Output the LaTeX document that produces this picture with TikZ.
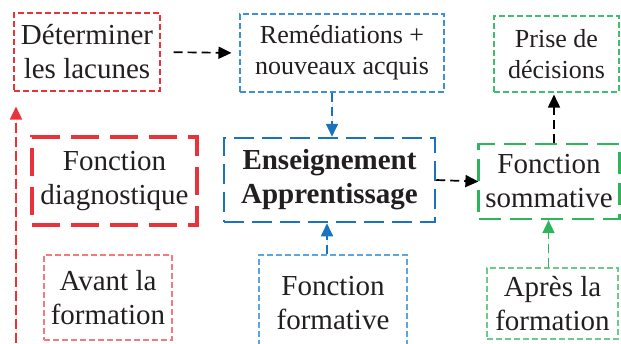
\documentclass[tikz,border=0pt]{standalone}
\usepackage{fontspec}
\setmainfont{Liberation Serif}
\usetikzlibrary{arrows.meta}
\definecolor{cred}{HTML}{E8333A}
\definecolor{credl}{HTML}{F27B7E}
\definecolor{cblue}{HTML}{1A73BF}
\definecolor{cbluem}{HTML}{3D8FD6}
\definecolor{cbluel}{HTML}{5CA5DE}
\definecolor{cgreen}{HTML}{2DB55C}
\definecolor{cgreenm}{HTML}{3FBF6E}
\definecolor{cgreenl}{HTML}{6CCB8B}
\definecolor{ctext}{HTML}{231F20}
\tikzset{
  box/.style={rectangle, inner sep=0pt, align=center, text=ctext,
    font=\fontsize{29}{34}\selectfont},
  smallbox/.style={box, font=\fontsize{26}{31}\selectfont},
  thinline/.style={line width=1.1pt, dash pattern=on 6pt off 3pt},
  conn/.style={line width=1.7pt, dash pattern=on 9pt off 5pt,
    -{Triangle[length=13pt,width=12pt]}},
}
\begin{document}
\begin{tikzpicture}[x=1pt,y=-1pt]
\useasboundingbox (0,0) rectangle (621,343);
% top row
\node[box, thinline, draw=cred, minimum width=146pt, minimum height=78pt] (det) at (87,52) {Déterminer\\les lacunes};
\node[smallbox, thinline, draw=cbluem, minimum width=204pt, minimum height=78pt] (rem) at (342,53) {Remédiations +\\nouveaux acquis};
\node[smallbox, thinline, draw=cgreenm, minimum width=125pt, minimum height=76pt] (pri) at (556.5,54) {Prise de\\décisions};
% middle row
\node[box, draw=cred, line width=3.5pt, dash pattern=on 28pt off 11pt, minimum width=165pt, minimum height=88pt] (dia) at (114.5,181) {Fonction\\diagnostique};
\node[box, draw=cblue, line width=2.5pt, dash pattern=on 20pt off 8pt, minimum width=211pt, minimum height=84pt, font=\fontsize{29}{34}\selectfont\bfseries] (ens) at (329.5,180) {Enseignement\\Apprentissage};
\node[box, draw=cgreen, line width=2.2pt, dash pattern=on 22pt off 9pt, minimum width=141pt, minimum height=75pt] (som) at (549,181.5) {Fonction\\sommative};
% bottom row
\node[box, thinline, draw=credl, minimum width=128pt, minimum height=85pt] (ava) at (108,297.5) {Avant la\\formation};
\node[box, thinline, draw=cbluel, minimum width=148pt, minimum height=96pt] (for) at (333,303) {};
\node[box] (fort) at (333,303) {Fonction\\formative};
\node[box, thinline, draw=cgreenl, minimum width=131pt, minimum height=71pt] (apr) at (552.5,303.5) {Après la\\formation};
% connectors
\coordinate (redstart) at (16,343);
\draw[conn, draw=cred, fill=cred, dash pattern=on 10pt off 4pt, shorten >=15pt] (redstart) -- (redstart |- det.south);
\draw[conn, shorten <=13pt, shorten >=8pt] (det.east) -- (rem.west);
\draw[conn, draw=cblue, fill=cblue] ([xshift=-10pt]rem.south) -- ([xshift=-10pt]rem.south |- ens.north);
\draw[conn, draw=cblue, fill=cblue] ([xshift=-6pt]for.north) -- ([xshift=-6pt]for.north |- ens.south);
\draw[conn, shorten >=-1pt] (ens.east) -- (som.west);
\draw[conn, shorten >=2pt] ([xshift=5pt]som.north) -- ([xshift=5pt]som.north |- pri.south) ;
\draw[conn, draw=cgreen, fill=cgreen] ([xshift=-4pt]apr.north) -- ([xshift=-4pt]apr.north |- som.south);
\end{tikzpicture}
\end{document}
